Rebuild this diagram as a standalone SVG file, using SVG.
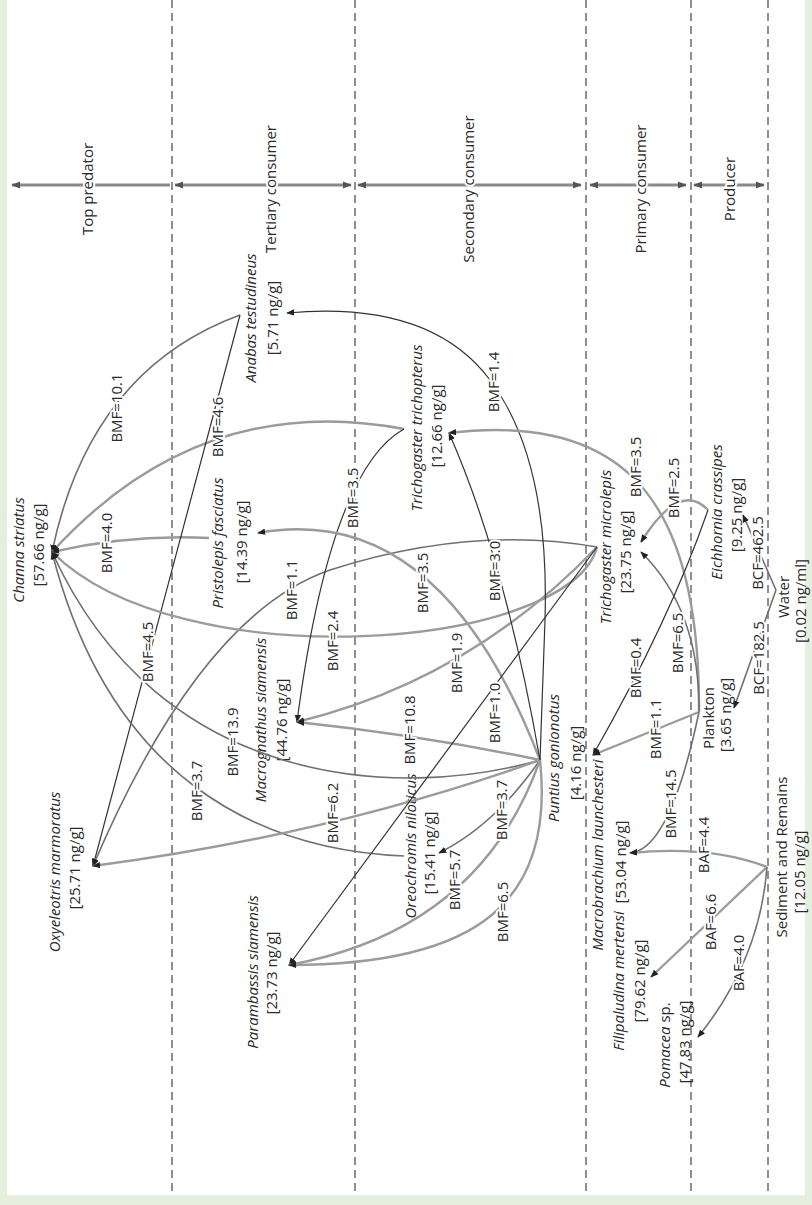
<svg xmlns="http://www.w3.org/2000/svg" width="812" height="1205" viewBox="0 0 812 1205">
<defs>
<style>
.t{font-family:"Open Sans","Liberation Sans",sans-serif;font-size:15px;fill:#2a2a2a;text-anchor:middle}
.i{font-style:italic}
.h{paint-order:stroke;stroke:#fff;stroke-width:4;stroke-linejoin:round}
.lt{fill:none;stroke:#9b9b9b;stroke-width:2.4}
.md{fill:none;stroke:#707070;stroke-width:1.6}
.dk{fill:none;stroke:#333;stroke-width:1.2}
.dash{stroke:#555;stroke-width:1.3;stroke-dasharray:8 5}
.ax{stroke:#8a8a8a;stroke-width:3;fill:none}
</style>
<marker id="ah" viewBox="0 0 10 10" refX="9" refY="5" markerWidth="8" markerHeight="8" markerUnits="userSpaceOnUse" orient="auto"><path d="M0,1 L10,5 L0,9 z" fill="#222"/></marker>
<marker id="ax" viewBox="0 0 10 10" refX="9" refY="5" markerWidth="9" markerHeight="9" markerUnits="userSpaceOnUse" orient="auto-start-reverse"><path d="M0,1 L10,5 L0,9 z" fill="#555"/></marker>
</defs>
<rect width="812" height="1205" fill="#e5efdd"/>
<rect x="7" y="0" width="798" height="1195" fill="#fff"/>
<g id="levels">
<line class="dash" x1="172" y1="0" x2="172" y2="1195"/>
<line class="dash" x1="355" y1="0" x2="355" y2="1195"/>
<line class="dash" x1="586" y1="0" x2="586" y2="1195"/>
<line class="dash" x1="691" y1="0" x2="691" y2="1195"/>
<line class="dash" x1="768" y1="0" x2="768" y2="1195"/>
<path class="ax" d="M170,185 L12,185" marker-end="url(#ax)"/>
<path class="ax" d="M175,185 L351,185" marker-start="url(#ax)" marker-end="url(#ax)"/>
<path class="ax" d="M358,185 L581,185" marker-start="url(#ax)" marker-end="url(#ax)"/>
<path class="ax" d="M590,185 L686,185" marker-start="url(#ax)" marker-end="url(#ax)"/>
<path class="ax" d="M694,185 L764,185" marker-start="url(#ax)" marker-end="url(#ax)"/>
<text class="t h" transform="translate(93,189) rotate(-90)">Top predator</text>
<text class="t h" transform="translate(276,189) rotate(-90)">Tertiary consumer</text>
<text class="t h" transform="translate(474,189) rotate(-90)">Secondary consumer</text>
<text class="t h" transform="translate(646,189) rotate(-90)">Primary consumer</text>
<text class="t h" transform="translate(735,189) rotate(-90)">Producer</text>
</g>
<g id="nodes">
<g id="channa"><text class="t i" transform="translate(24,550) rotate(-90)">Channa striatus</text><text class="t" transform="translate(44,545) rotate(-90)">[57.66 ng/g]</text></g>
<g id="oxyeleotris"><text class="t i" transform="translate(60,872) rotate(-90)">Oxyeleotris marmoratus</text><text class="t" transform="translate(80,868) rotate(-90)">[25.71 ng/g]</text></g>
<g id="anabas"><text class="t i" transform="translate(256,318) rotate(-90)">Anabas testudineus</text><text class="t" transform="translate(278,318) rotate(-90)">[5.71 ng/g]</text></g>
<g id="pristolepis"><text class="t i" transform="translate(223,543) rotate(-90)">Pristolepis fasciatus</text><text class="t" transform="translate(247,542) rotate(-90)">[14.39 ng/g]</text></g>
<g id="macrognathus"><text class="t i" transform="translate(266,720) rotate(-90)">Macrognathus siamensis</text><text class="t" transform="translate(287,720) rotate(-90)">[44.76 ng/g]</text></g>
<g id="parambassis"><text class="t i" transform="translate(258,972) rotate(-90)">Parambassis siamensis</text><text class="t" transform="translate(277,973) rotate(-90)">[23.73 ng/g]</text></g>
<g id="trichopterus"><text class="t i" transform="translate(422,428) rotate(-90)">Trichogaster trichopterus</text><text class="t" transform="translate(442,426) rotate(-90)">[12.66 ng/g]</text></g>
<g id="oreochromis"><text class="t i" transform="translate(416,846) rotate(-90)">Oreochromis niloticus</text><text class="t" transform="translate(435,853) rotate(-90)">[15.41 ng/g]</text></g>
<g id="microlepis"><text class="t i" transform="translate(611,547) rotate(-90)">Trichogaster microlepis</text><text class="t" transform="translate(631,552) rotate(-90)">[23.75 ng/g]</text></g>
<g id="puntius"><text class="t i" transform="translate(559,758) rotate(-90)">Puntius gonionotus</text><text class="t" transform="translate(581,763) rotate(-90)">[4.16 ng/g]</text></g>
<g id="macrobrachium"><text class="t i" transform="translate(603,855) rotate(-90)">Macrobrachium launchesteri</text><text class="t" transform="translate(626,862) rotate(-90)">[53.04 ng/g]</text></g>
<g id="filipaludina"><text class="t i" transform="translate(624,981) rotate(-90)">Filipaludina mertensi</text><text class="t" transform="translate(645,981) rotate(-90)">[79.62 ng/g]</text></g>
<g id="pomacea"><text class="t" transform="translate(670,1045) rotate(-90)"><tspan class="i">Pomacea</tspan> sp.</text><text class="t" transform="translate(690,1042) rotate(-90)">[47.83 ng/g]</text></g>
<g id="plankton"><text class="t" transform="translate(714,718) rotate(-90)">Plankton</text><text class="t" transform="translate(731,715) rotate(-90)">[3.65 ng/g]</text></g>
<g id="eichhornia"><text class="t i" transform="translate(722,512) rotate(-90)">Eichhornia crassipes</text><text class="t" transform="translate(742,515) rotate(-90)">[9.25 ng/g]</text></g>
<g id="water"><text class="t" transform="translate(789,597) rotate(-90)">Water</text><text class="t" transform="translate(806,601) rotate(-90)">[0.02 ng/ml]</text></g>
<g id="sediment"><text class="t" transform="translate(787,857) rotate(-90)">Sediment and Remains</text><text class="t" transform="translate(805,872) rotate(-90)">[12.05 ng/g]</text></g>
</g>
<g id="connectors">
<path class="md" d="M240,315 Q90,370 52,552" marker-end="url(#ah)"/>
<path class="lt" d="M404,429 Q200,390 52,552" marker-end="url(#ah)"/>
<path class="lt" d="M209,538 Q130,534 52,552" marker-end="url(#ah)"/>
<path class="dk" d="M240,315 L93,866" marker-end="url(#ah)"/>
<path class="md" d="M597,547 Q470,525 330,570 Q200,615 93,866" marker-end="url(#ah)"/>
<path class="lt" d="M597,547 C570,650 180,680 52,552" marker-end="url(#ah)"/>
<path class="md" d="M540,760 C400,800 160,790 52,552" marker-end="url(#ah)"/>
<path class="md" d="M404,856 C260,850 110,780 52,552" marker-end="url(#ah)"/>
<path class="dk" d="M404,429 Q330,470 297,722" marker-end="url(#ah)"/>
<path class="lt" d="M597,547 Q470,680 297,722" marker-end="url(#ah)"/>
<path class="lt" d="M540,760 Q420,735 297,722" marker-end="url(#ah)"/>
<path class="lt" d="M540,760 Q330,835 93,866" marker-end="url(#ah)"/>
<path class="lt" d="M540,760 Q440,500 258,533" marker-end="url(#ah)"/>
<path class="dk" d="M540,760 Q505,560 449,433" marker-end="url(#ah)"/>
<path class="dk" d="M540,760 L545,620 Q550,460 490,380 Q430,300 287,313" marker-end="url(#ah)"/>
<path class="md" d="M540,760 Q495,825 439,853" marker-end="url(#ah)"/>
<path class="dk" d="M597,547 L289,965" marker-end="url(#ah)"/>
<path class="lt" d="M540,760 Q480,930 289,965" marker-end="url(#ah)"/>
<path class="lt" d="M540,760 C555,900 480,965 289,965" marker-end="url(#ah)"/>
<path class="lt" d="M699,712 C700,520 640,410 449,433" marker-end="url(#ah)"/>
<path class="lt" d="M708,510 Q680,480 641,542" marker-end="url(#ah)"/>
<path class="md" d="M699,712 Q700,610 641,552" marker-end="url(#ah)"/>
<path class="dk" d="M708,510 Q670,620 593,755" marker-end="url(#ah)"/>
<path class="lt" d="M699,712 L593,755" marker-end="url(#ah)"/>
<path class="md" d="M699,712 Q670,850 630,853" marker-end="url(#ah)"/>
<path class="lt" d="M767,867 Q710,845 630,853" marker-end="url(#ah)"/>
<path class="lt" d="M767,867 L651,977" marker-end="url(#ah)"/>
<path class="md" d="M767,867 Q760,960 698,1037" marker-end="url(#ah)"/>
<path class="md" d="M776,590 L743,515" marker-end="url(#ah)"/>
<path class="md" d="M776,590 L734,708" marker-end="url(#ah)"/>
</g>
<g id="labels">
<text class="t h" transform="translate(122,408) rotate(-90)">BMF=10.1</text>
<text class="t h" transform="translate(223,427) rotate(-90)">BMF=4.6</text>
<text class="t h" transform="translate(112,543) rotate(-90)">BMF=4.0</text>
<text class="t h" transform="translate(358,498) rotate(-90)">BMF=3.5</text>
<text class="t h" transform="translate(297,590) rotate(-90)">BMF=1.1</text>
<text class="t h" transform="translate(153,652) rotate(-90)">BMF=4.5</text>
<text class="t h" transform="translate(338,641) rotate(-90)">BMF=2.4</text>
<text class="t h" transform="translate(238,742) rotate(-90)">BMF=13.9</text>
<text class="t h" transform="translate(202,791) rotate(-90)">BMF=3.7</text>
<text class="t h" transform="translate(338,813) rotate(-90)">BMF=6.2</text>
<text class="t h" transform="translate(415,730) rotate(-90)">BMF=10.8</text>
<text class="t h" transform="translate(428,583) rotate(-90)">BMF=3.5</text>
<text class="t h" transform="translate(462,663) rotate(-90)">BMF=1.9</text>
<text class="t h" transform="translate(500,713) rotate(-90)">BMF=1.0</text>
<text class="t h" transform="translate(500,571) rotate(-90)">BMF=3.0</text>
<text class="t h" transform="translate(507,810) rotate(-90)">BMF=3.7</text>
<text class="t h" transform="translate(460,880) rotate(-90)">BMF=5.7</text>
<text class="t h" transform="translate(508,912) rotate(-90)">BMF=6.5</text>
<text class="t h" transform="translate(499,382) rotate(-90)">BMF=1.4</text>
<text class="t h" transform="translate(641,467) rotate(-90)">BMF=3.5</text>
<text class="t h" transform="translate(679,488) rotate(-90)">BMF=2.5</text>
<text class="t h" transform="translate(763,553) rotate(-90)">BCF=462.5</text>
<text class="t h" transform="translate(641,668) rotate(-90)">BMF=0.4</text>
<text class="t h" transform="translate(683,643) rotate(-90)">BMF=6.5</text>
<text class="t h" transform="translate(661,729) rotate(-90)">BMF=1.1</text>
<text class="t h" transform="translate(676,804) rotate(-90)">BMF=14.5</text>
<text class="t h" transform="translate(764,658) rotate(-90)">BCF=182.5</text>
<text class="t h" transform="translate(709,845) rotate(-90)">BAF=4.4</text>
<text class="t h" transform="translate(716,922) rotate(-90)">BAF=6.6</text>
<text class="t h" transform="translate(744,963) rotate(-90)">BAF=4.0</text>
</g>
</svg>
